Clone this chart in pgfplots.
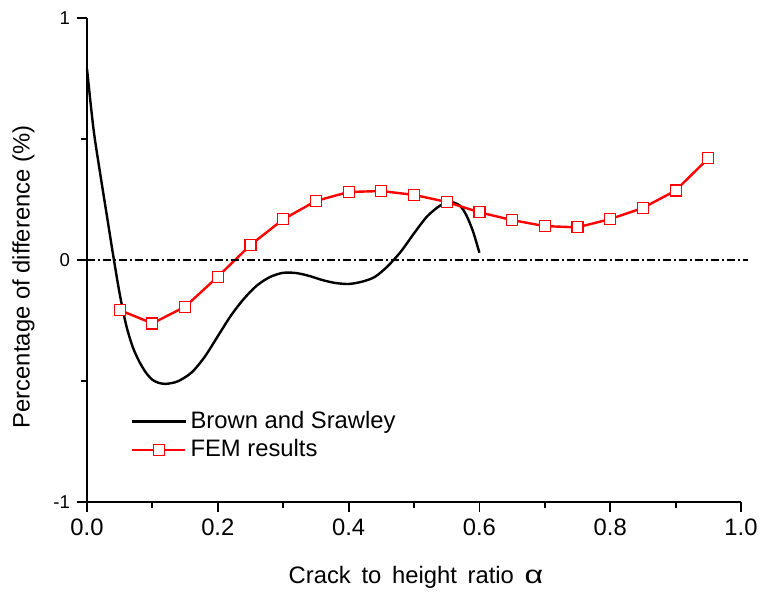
\documentclass[border=0pt]{standalone}
\usepackage{pgfplots}
\pgfplotsset{compat=1.18}
\usepackage{fontspec}
\setmainfont{Liberation Sans}

\begin{document}
\begin{tikzpicture}
\begin{axis}[
    name=ax,
    scale only axis,
    width=327pt, height=242pt,
    xmin=0, xmax=1.0, ymin=-1, ymax=1,
    axis x line*=bottom, axis y line*=left,
    axis line style={line width=1pt},
    tick align=outside,
    major tick length=5pt, minor tick length=3pt,
    every tick/.style={black, line width=0.9pt},
    xtick={0,0.2,0.4,0.6,0.8,1.0},
    xticklabels={0.0,0.2,0.4,0.6,0.8,1.0},
    minor x tick num=1,
    ytick={-1,0,1},
    yticklabels={-1,0,1},
    minor y tick num=1,
    font=\fontsize{11.9}{14}\selectfont,
    xticklabel style={font=\fontsize{11.9}{14}\selectfont},
    yticklabel style={font=\fontsize{9.3}{11}\selectfont},
    xlabel={Crack\hspace{0.45em}to\hspace{0.45em}height\hspace{0.45em}ratio\hspace{0.45em}\scalebox{1.35}[1.05]{α}},
    ylabel={Percentage of difference (\%)},
    xlabel style={at={(axis description cs:0.503,-0.155)}, anchor=center},
    ylabel style={at={(axis description cs:-0.097,0.465)}, anchor=center, rotate=0},
    legend style={at={(0.057,0.137)}, anchor=west, draw=none, fill=none,
        font=\fontsize{11.9}{14}\selectfont, row sep=0pt},
    legend cell align=left,
    legend image code/.code={
        \draw[mark repeat=2, mark phase=2] plot coordinates {(0cm,0cm) (0.47cm,0cm) (0.94cm,0cm)};
    },
    clip=false,
]

% Brown and Srawley
\addplot[black, line width=1.2pt, smooth] coordinates {
    (0.000,0.79) (0.010,0.54) (0.020,0.36) (0.030,0.19) (0.040,0.02)
    (0.050,-0.14) (0.060,-0.27) (0.070,-0.36) (0.080,-0.42) (0.090,-0.465)
    (0.100,-0.495) (0.110,-0.508) (0.120,-0.512) (0.130,-0.508) (0.140,-0.50)
    (0.160,-0.465) (0.180,-0.40) (0.200,-0.315) (0.220,-0.23)
    (0.240,-0.16) (0.260,-0.105) (0.280,-0.07) (0.300,-0.053) (0.320,-0.054)
    (0.340,-0.066) (0.360,-0.083) (0.380,-0.095) (0.400,-0.099) (0.420,-0.09)
    (0.440,-0.07) (0.460,-0.025) (0.480,0.035) (0.500,0.11) (0.520,0.18)
    (0.540,0.225) (0.555,0.24) (0.570,0.225) (0.580,0.185) (0.590,0.12)
    (0.600,0.03)
};

% FEM results
\addplot[red, line width=1.2pt, mark=square*,
    mark options={fill=white, draw=red, line width=0.6pt, mark size=2.75pt}] coordinates {
    (0.05,-0.207) (0.10,-0.262) (0.15,-0.193) (0.20,-0.069) (0.25,0.062)
    (0.30,0.168) (0.35,0.244) (0.40,0.281) (0.45,0.285) (0.50,0.269)
    (0.55,0.240) (0.60,0.197) (0.65,0.165) (0.70,0.140) (0.75,0.135)
    (0.80,0.169) (0.85,0.215) (0.90,0.287) (0.95,0.420)
};

% zero line
\addplot[black, line width=0.9pt, dash pattern=on 4pt off 1.5pt on 1pt off 1.5pt,
    forget plot] coordinates {(0,0) (1.01,0)};

\legend{Brown and Srawley, FEM results}
\end{axis}
\pgfresetboundingbox
\path[use as bounding box] ([xshift=-43.5pt,yshift=-46pt]ax.south west)
    rectangle ([xshift=10pt,yshift=9pt]ax.north east);
\end{tikzpicture}
\end{document}
